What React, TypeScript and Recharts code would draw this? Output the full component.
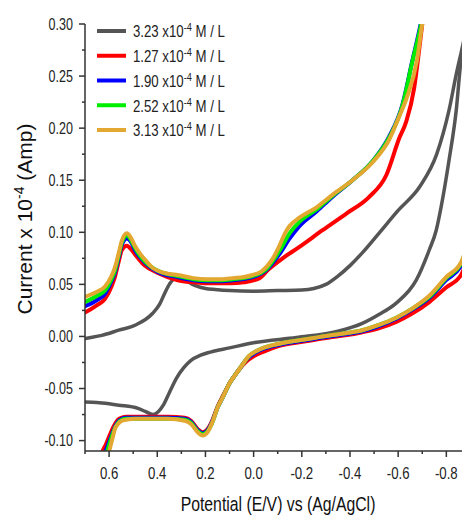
import { LineChart, Line, XAxis, YAxis } from 'recharts'

const FONT = "'Liberation Sans', Arial, sans-serif"

// legend labels (concentration, x10^-4 M / L)
const concentrations = ['3.23', '1.27', '1.90', '2.52', '3.13']
const colors = ['#555555', '#ff0000', '#0000ff', '#00ee00', '#e2a832']

const xTicks = [0.7, 0.6, 0.5, 0.4, 0.3, 0.2, 0.1, 0, -0.1, -0.2, -0.3, -0.4, -0.5, -0.6, -0.7, -0.8]
const yTicks = [-0.1, -0.075, -0.05, -0.025, 0, 0.025, 0.05, 0.075, 0.1, 0.125, 0.15, 0.175, 0.2, 0.225, 0.25, 0.275, 0.3]

// [potential V, current x1e-4 A] -- forward (upper) and reverse (lower) branches
const grayFwd = [
  [0.72, -0.003], [0.7, -0.002], [0.63, 0.001], [0.56, 0.006], [0.49, 0.011], [0.42, 0.022],
  [0.39, 0.031], [0.37, 0.041], [0.35, 0.05], [0.33, 0.055], [0.3, 0.055], [0.245, 0.049],
  [0.2, 0.046], [0.16, 0.045], [0.1, 0.044], [0, 0.0435], [-0.1, 0.044], [-0.2, 0.0445],
  [-0.25, 0.046], [-0.3, 0.05], [-0.35, 0.058], [-0.4, 0.068], [-0.45, 0.08], [-0.52, 0.099],
  [-0.6, 0.121], [-0.69, 0.144], [-0.76, 0.175], [-0.81, 0.216], [-0.845, 0.256], [-0.861, 0.272],
  [-0.88, 0.292],
]
const grayRev = [
  [-0.88, 0.285], [-0.861, 0.265], [-0.841, 0.217], [-0.811, 0.169], [-0.778, 0.124], [-0.758, 0.102],
  [-0.729, 0.083], [-0.675, 0.054], [-0.592, 0.032], [-0.52, 0.021], [-0.451, 0.0125], [-0.35, 0.005],
  [-0.178, -0.001], [0, -0.006], [0.1, -0.011], [0.18, -0.015], [0.22, -0.018], [0.26, -0.023],
  [0.29, -0.03], [0.32, -0.04], [0.35, -0.054], [0.375, -0.066], [0.395, -0.072], [0.418, -0.075],
  [0.45, -0.072], [0.48, -0.069], [0.56, -0.066], [0.63, -0.064], [0.7, -0.063], [0.72, -0.063],
]

const redFwd = [
  [0.72, 0.021], [0.7, 0.023], [0.65, 0.03], [0.617, 0.036], [0.59, 0.048], [0.576, 0.057],
  [0.56, 0.072], [0.547, 0.083], [0.526, 0.087], [0.51, 0.084], [0.493, 0.079], [0.452, 0.068],
  [0.398, 0.061], [0.315, 0.054], [0.25, 0.052], [0.195, 0.051], [0.1, 0.051], [0.04, 0.052],
  [-0.025, 0.056], [-0.06, 0.064], [-0.12, 0.075], [-0.19, 0.086], [-0.286, 0.102], [-0.385, 0.118],
  [-0.48, 0.134], [-0.551, 0.155], [-0.604, 0.19], [-0.633, 0.206], [-0.666, 0.238], [-0.687, 0.275],
  [-0.7, 0.3], [-0.72, 0.335],
]
const redRev = [
  [-0.9, 0.085], [-0.861, 0.059], [-0.799, 0.047], [-0.729, 0.033], [-0.658, 0.022], [-0.592, 0.014],
  [-0.522, 0.008], [-0.451, 0.004], [-0.38, 0.001], [-0.314, -0.001], [-0.21, -0.005], [-0.107, -0.009],
  [-0.037, -0.015], [0, -0.019], [0.03, -0.024], [0.058, -0.031], [0.08, -0.038], [0.1, -0.045],
  [0.125, -0.056], [0.149, -0.067], [0.174, -0.082], [0.195, -0.09], [0.211, -0.092], [0.232, -0.089],
  [0.26, -0.081], [0.286, -0.078], [0.356, -0.077], [0.43, -0.077], [0.493, -0.077], [0.53, -0.077],
  [0.547, -0.078], [0.563, -0.08], [0.58, -0.086], [0.596, -0.094], [0.612, -0.103], [0.63, -0.112],
  [0.645, -0.125],
]

const blueFwd = [
  [0.72, 0.027], [0.7, 0.029], [0.65, 0.035], [0.617, 0.041], [0.59, 0.053], [0.576, 0.061],
  [0.56, 0.076], [0.547, 0.088], [0.526, 0.094], [0.51, 0.091], [0.493, 0.083], [0.452, 0.071],
  [0.398, 0.062], [0.315, 0.057], [0.25, 0.054], [0.195, 0.053], [0.13, 0.053], [0.087, 0.054],
  [0.004, 0.057], [-0.054, 0.064], [-0.107, 0.079], [-0.149, 0.094], [-0.19, 0.106], [-0.261, 0.12],
  [-0.327, 0.134], [-0.41, 0.15], [-0.493, 0.168], [-0.563, 0.192], [-0.617, 0.222], [-0.658, 0.264],
  [-0.695, 0.302], [-0.72, 0.335],
]
const blueRev = [
  [-0.9, 0.093], [-0.861, 0.068], [-0.799, 0.054], [-0.729, 0.037], [-0.66, 0.026], [-0.592, 0.017],
  [-0.52, 0.01], [-0.451, 0.005], [-0.38, 0.002], [-0.314, 0], [-0.21, -0.004], [-0.107, -0.008],
  [-0.04, -0.012], [-0.012, -0.015], [0.02, -0.02], [0.04, -0.025], [0.058, -0.031], [0.08, -0.038],
  [0.1, -0.045], [0.125, -0.057], [0.149, -0.068], [0.174, -0.083], [0.195, -0.091], [0.211, -0.093],
  [0.232, -0.09], [0.26, -0.082], [0.286, -0.079], [0.356, -0.078], [0.43, -0.078], [0.493, -0.078],
  [0.53, -0.078], [0.547, -0.079], [0.563, -0.082], [0.576, -0.087], [0.59, -0.095], [0.603, -0.103],
  [0.617, -0.112], [0.632, -0.125],
]

const greenFwd = [
  [0.72, 0.031], [0.7, 0.033], [0.65, 0.039], [0.617, 0.044], [0.59, 0.055], [0.576, 0.063],
  [0.56, 0.078], [0.547, 0.09], [0.526, 0.097], [0.51, 0.093], [0.493, 0.085], [0.452, 0.072],
  [0.398, 0.063], [0.315, 0.058], [0.25, 0.055], [0.195, 0.054], [0.13, 0.054], [0.087, 0.055],
  [0.004, 0.058], [-0.054, 0.065], [-0.107, 0.082], [-0.149, 0.099], [-0.19, 0.11], [-0.261, 0.122],
  [-0.327, 0.135], [-0.41, 0.15], [-0.493, 0.168], [-0.563, 0.191], [-0.617, 0.221], [-0.658, 0.263],
  [-0.697, 0.302], [-0.72, 0.335],
]
const greenRev = [
  [-0.9, 0.096], [-0.861, 0.07], [-0.799, 0.056], [-0.729, 0.038], [-0.66, 0.027], [-0.592, 0.018],
  [-0.52, 0.011], [-0.451, 0.006], [-0.38, 0.003], [-0.314, 0.001], [-0.21, -0.003], [-0.107, -0.007],
  [-0.04, -0.011], [-0.012, -0.014], [0.02, -0.019], [0.04, -0.025], [0.058, -0.031], [0.08, -0.038],
  [0.1, -0.045], [0.125, -0.057], [0.149, -0.068], [0.174, -0.084], [0.195, -0.092], [0.211, -0.094],
  [0.232, -0.091], [0.26, -0.083], [0.286, -0.08], [0.356, -0.079], [0.43, -0.079], [0.493, -0.079],
  [0.53, -0.079], [0.547, -0.08], [0.563, -0.083], [0.576, -0.088], [0.59, -0.097], [0.6, -0.104],
  [0.609, -0.111], [0.625, -0.125],
]

const goldFwd = [
  [0.72, 0.036], [0.7, 0.038], [0.65, 0.043], [0.617, 0.048], [0.59, 0.058], [0.576, 0.066],
  [0.56, 0.08], [0.547, 0.092], [0.526, 0.099], [0.51, 0.095], [0.493, 0.087], [0.47, 0.079],
  [0.452, 0.074], [0.42, 0.066], [0.398, 0.063], [0.35, 0.06], [0.315, 0.059], [0.25, 0.056],
  [0.195, 0.055], [0.13, 0.055], [0.087, 0.056], [0.04, 0.057], [0.004, 0.059], [-0.03, 0.062],
  [-0.054, 0.067], [-0.08, 0.075], [-0.107, 0.087], [-0.13, 0.099], [-0.149, 0.106], [-0.19, 0.114],
  [-0.261, 0.124], [-0.327, 0.136], [-0.41, 0.15], [-0.493, 0.167], [-0.563, 0.189], [-0.604, 0.211],
  [-0.637, 0.23], [-0.678, 0.265], [-0.7, 0.3], [-0.73, 0.335],
]
const goldRev = [
  [-0.9, 0.098], [-0.861, 0.071], [-0.799, 0.057], [-0.729, 0.039], [-0.66, 0.027], [-0.592, 0.018],
  [-0.52, 0.011], [-0.451, 0.006], [-0.38, 0.003], [-0.314, 0.001], [-0.21, -0.003], [-0.107, -0.007],
  [-0.04, -0.011], [-0.012, -0.014], [0.02, -0.019], [0.04, -0.025], [0.058, -0.031], [0.08, -0.038],
  [0.1, -0.045], [0.125, -0.057], [0.149, -0.068], [0.174, -0.084], [0.195, -0.093], [0.211, -0.095],
  [0.232, -0.092], [0.26, -0.084], [0.286, -0.081], [0.356, -0.079], [0.43, -0.079], [0.493, -0.079],
  [0.53, -0.08], [0.547, -0.081], [0.563, -0.084], [0.576, -0.089], [0.586, -0.098], [0.596, -0.107],
  [0.605, -0.115], [0.615, -0.127],
]

const branches = [
  [grayFwd, grayRev],
  [redFwd, redRev],
  [blueFwd, blueRev],
  [greenFwd, greenRev],
  [goldFwd, goldRev],
]

const toRows = (pts: number[][]) => pts.map(([x, y]) => ({ x, y }))

const AXIS = '#333333'

const XTick = (props: any) => {
  const { x, y, payload } = props
  const v = payload.value
  const major = Math.round(v * 10) % 2 === 0
  return (
    <g>
      <line x1={x} x2={x} y1={y} y2={y + (major ? 6 : 3)} stroke={AXIS} strokeWidth={1.5} />
      {major && (
        <text
          transform={`translate(${x} ${y + 28}) scale(0.8 1)`}
          textAnchor="middle"
          fontSize={16.5}
          fontFamily={FONT}
          fill="#222"
        >
          {v.toFixed(1)}
        </text>
      )}
    </g>
  )
}

const YTick = (props: any) => {
  const { x, y, payload } = props
  const v = payload.value
  const major = Math.round(v * 1000) % 50 === 0
  return (
    <g>
      <line x1={x} x2={x - (major ? 6 : 3)} y1={y} y2={y} stroke={AXIS} strokeWidth={1.5} />
      {major && (
        <text
          transform={`translate(${x - 12} ${y}) scale(0.76 1)`}
          dy="0.35em"
          textAnchor="end"
          fontSize={16.5}
          fontFamily={FONT}
          fill="#222"
        >
          {v.toFixed(2)}
        </text>
      )}
    </g>
  )
}

export default function App() {
  return (
    <div style={{ position: 'absolute', left: 0, top: 0, width: 462, height: 519, background: '#fff' }}>
      <LineChart width={462} height={519} margin={{ top: 24, right: 0, bottom: 0, left: 0 }}>
        <XAxis
          type="number"
          dataKey="x"
          domain={[-0.865, 0.7]}
          reversed
          allowDataOverflow
          ticks={xTicks}
          interval={0}
          height={68}
          tickSize={0}
          tickMargin={0}
          tickLine={false}
          axisLine={{ stroke: AXIS, strokeWidth: 1.5 }}
          tick={<XTick />}
        />
        <YAxis
          type="number"
          dataKey="y"
          domain={[-0.11, 0.3]}
          allowDataOverflow
          ticks={yTicks}
          interval={0}
          width={85}
          tickSize={0}
          tickMargin={0}
          tickLine={false}
          axisLine={{ stroke: AXIS, strokeWidth: 1.5 }}
          tick={<YTick />}
        />
        {branches.map(([fwd, rev], i) => [
          <Line
            key={`f${i}`}
            data={toRows(fwd)}
            dataKey="y"
            type="monotone"
            stroke={colors[i]}
            strokeWidth={i === 0 ? 3.5 : 4}
            dot={false}
            activeDot={false}
            isAnimationActive={false}
          />,
          <Line
            key={`r${i}`}
            data={toRows(rev)}
            dataKey="y"
            type="monotone"
            stroke={colors[i]}
            strokeWidth={i === 0 ? 3.5 : 4}
            dot={false}
            activeDot={false}
            isAnimationActive={false}
          />,
        ])}
      </LineChart>

      <svg width={462} height={519} style={{ position: 'absolute', left: 0, top: 0, pointerEvents: 'none' }}>
        <text
          transform="translate(32, 219) rotate(-90)"
          textAnchor="middle"
          fontSize={21}
          fontFamily={FONT}
          fill="#111"
        >
          Current x 10<tspan dy={-8} fontSize={14}>-4</tspan>
          <tspan dy={8}> (Amp)</tspan>
        </text>
        <text
          transform="translate(278 511) scale(0.81 1)"
          textAnchor="middle"
          fontSize={19.5}
          fontFamily={FONT}
          fill="#111"
        >
          Potential (E/V) vs (Ag/AgCl)
        </text>
        {concentrations.map((c, i) => (
          <g key={c}>
            <line x1={97} x2={126} y1={31 + i * 24.75} y2={31 + i * 24.75} stroke={colors[i]} strokeWidth={4} />
            <text
              transform={`translate(133 ${31 + i * 24.75}) scale(0.8 1)`}
              dy="0.38em"
              fontSize={16.5}
              fontFamily={FONT}
              fill="#222"
            >
              {c} x10<tspan dy={-6} fontSize={11.5}>-4</tspan>
              <tspan dy={6}> M / L</tspan>
            </text>
          </g>
        ))}
      </svg>
    </div>
  )
}
